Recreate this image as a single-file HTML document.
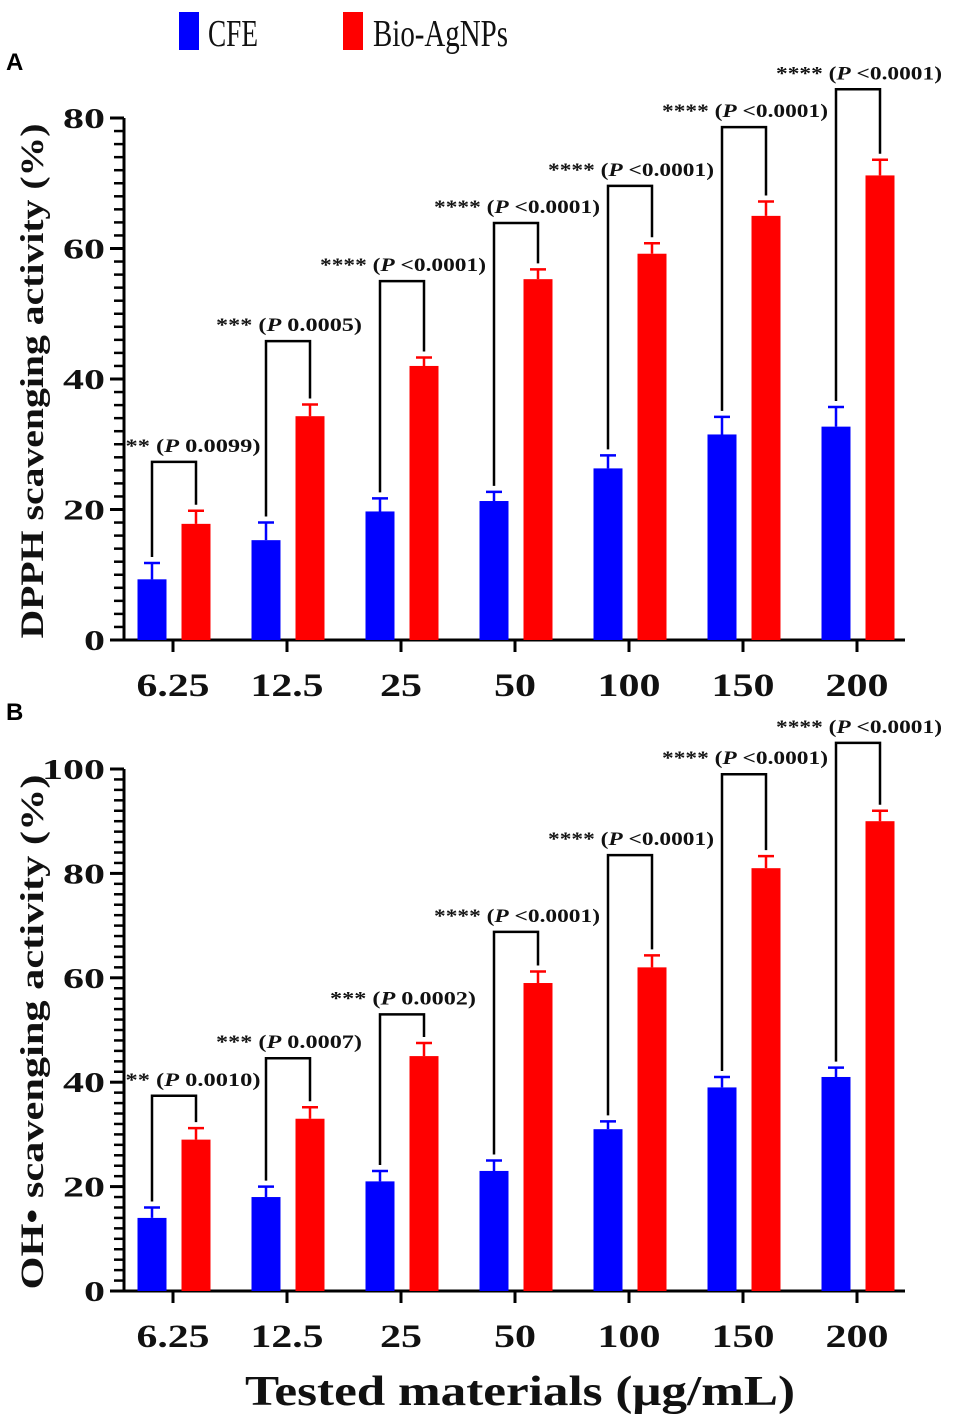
<!DOCTYPE html>
<html><head><meta charset="utf-8"><style>
html,body{margin:0;padding:0;background:#fff;}
svg{display:block;}
.t{font-family:"Liberation Serif",serif;font-weight:bold;fill:#111;}
</style></head><body>
<svg id="c" width="955" height="1427" viewBox="0 0 955 1427">
<rect x="179" y="12" width="20" height="38" fill="#0000ff"/>
<text x="208" y="46" font-family="Liberation Serif,serif" font-size="38" fill="#111" textLength="50" lengthAdjust="spacingAndGlyphs">CFE</text>
<rect x="343" y="12" width="20" height="38" fill="#ff0000"/>
<text x="373" y="46" font-family="Liberation Serif,serif" font-size="38" fill="#111" textLength="135" lengthAdjust="spacingAndGlyphs">Bio-AgNPs</text>
<text x="6" y="70" font-family="Liberation Sans,sans-serif" font-weight="bold" font-size="24" fill="#000">A</text>
<text x="6" y="720" font-family="Liberation Sans,sans-serif" font-weight="bold" font-size="24" fill="#000">B</text>
<text class="t" x="520" y="1405" font-size="42" text-anchor="middle" textLength="550" lengthAdjust="spacingAndGlyphs">Tested materials (μg/mL)</text>
</svg>
<script>
const categories=["6.25","12.5","25","50","100","150","200"];
const cfeA=[9.3,15.3,19.7,21.3,26.3,31.5,32.7];
const cfeAErr=[2.5,2.7,2.0,1.4,2.0,2.7,3.0];
const bioA=[17.8,34.3,42.0,55.3,59.2,65.0,71.2];
const bioAErr=[2.0,1.8,1.3,1.5,1.6,2.2,2.4];
const sigA=["** (P 0.0099)","*** (P 0.0005)","**** (P <0.0001)","**** (P <0.0001)","**** (P <0.0001)","**** (P <0.0001)","**** (P <0.0001)"];
const brA=[27.3,45.8,55,63.9,69.6,78.6,84.4];
const ticksA=[0,20,40,60,80];
const cfeB=[14,18,21,23,31,39,41];
const cfeBErr=[2,2,2,2,1.5,2,1.8];
const bioB=[29,33,45,59,62,81,90];
const bioBErr=[2.2,2.2,2.5,2.2,2.3,2.3,2];
const sigB=["** (P 0.0010)","*** (P 0.0007)","*** (P 0.0002)","**** (P <0.0001)","**** (P <0.0001)","**** (P <0.0001)","**** (P <0.0001)"];
const brB=[37.4,44.6,53,68.8,83.5,99,105];
const ticksB=[0,20,40,60,80,100];
const NS='http://www.w3.org/2000/svg';
const svg=document.getElementById('c');
function mk(tag,at,parent){const e=document.createElementNS(NS,tag);for(const k in at)e.setAttribute(k,at[k]);(parent||svg).appendChild(e);return e;}
function numLen(s){let w=0;for(const ch of s)w+=(ch==='.')?10:21;return w;}
function panel(p,y0,y1,ymax,cfe,cfeE,bio,bioE,sig,br,ticks,title){
 const g=mk('g',{});
 
 
 const X0=124,X1=905;
 const y=v=>y0-(y0-y1)*v/ymax;
 const xc=i=>173+114*i;
 const bw=29;
 for(let v=0;v<=ymax;v+=2){const major=ticks.includes(v);
  const t=mk('line',{x1:major?110:114,x2:X0,y1:y(v),y2:y(v),stroke:'#000','stroke-width':major?3:2.5},g);
  
  }
 ticks.forEach(v=>{const s=String(v);const t=mk('text',{x:105,y:y(v)+10,'font-size':29,'text-anchor':'end',class:'t',textLength:numLen(s),lengthAdjust:'spacingAndGlyphs'},g);t.textContent=s;
  
  });
 const ax=mk('line',{x1:X0,x2:X0,y1:y1,y2:y0+1.5,stroke:'#000','stroke-width':3},g);
 
 
 const xa=mk('line',{x1:X0-1.5,x2:X1,y1:y0,y2:y0,stroke:'#000','stroke-width':3},g);
 
 
 const yt=mk('text',{x:0,y:0,'font-size':33,'text-anchor':'middle',class:'t',textLength:515,lengthAdjust:'spacingAndGlyphs',transform:`translate(43,${(y0+y1)/2+2}) rotate(-90)`},g);
 yt.textContent=title;
 
 
 categories.forEach((c,i)=>{
  const tk=mk('line',{x1:xc(i),x2:xc(i),y1:y0,y2:y0+12,stroke:'#000','stroke-width':3},g);
  
  
  const lb=mk('text',{x:xc(i),y:y0+56,'font-size':33,'text-anchor':'middle',class:'t',textLength:numLen(c),lengthAdjust:'spacingAndGlyphs'},g);lb.textContent=c;
  
  
  [[cfe,cfeE,'#0000ff',xc(i)-21,'cfe'],[bio,bioE,'#ff0000',xc(i)+23,'bio']].forEach(([d,e,col,cx,nm])=>{
   const top=y(d[i]);
   const b=mk('rect',{x:cx-bw/2,y:top,width:bw,height:y0-top,fill:col},g);
   
   
   const et=y(d[i]+e[i]);
   const el=mk('path',{d:`M${cx},${top}V${et}M${cx-8},${et}H${cx+8}`,stroke:col,'stroke-width':2.5,fill:'none'},g);
   
   
  });
  const bl=xc(i)-21,brx=xc(i)+23,by=y(br[i]);
  const lA=y(cfe[i]+cfeE[i])-6,lB=y(bio[i]+bioE[i])-6;
  const bk=mk('path',{d:`M${bl},${lA}V${by}H${brx}V${lB}`,stroke:'#000','stroke-width':2.5,fill:'none'},g);
  
  
  const s=sig[i].split('P');
  const w=Math.round(sig[i].length*10.4);
  const cx=xc(i)+(i===0?20:2);
  const st=mk('text',{x:cx-w/2,y:by-10,'font-size':19,class:'t',textLength:w,lengthAdjust:'spacingAndGlyphs'},g);
  
  
  const a=mk('tspan',{},st);a.textContent=s[0];
  const b2=mk('tspan',{'font-style':'italic'},st);b2.textContent='P';
  const c2=mk('tspan',{},st);c2.textContent=s[1];
 });
}
panel('a',640,118,80,cfeA,cfeAErr,bioA,bioAErr,sigA,brA,ticksA,'DPPH scavenging activity (%)');
panel('b',1291,769,100,cfeB,cfeBErr,bioB,bioBErr,sigB,brB,ticksB,'OH• scavenging activity (%)');
</script>
</body></html>
